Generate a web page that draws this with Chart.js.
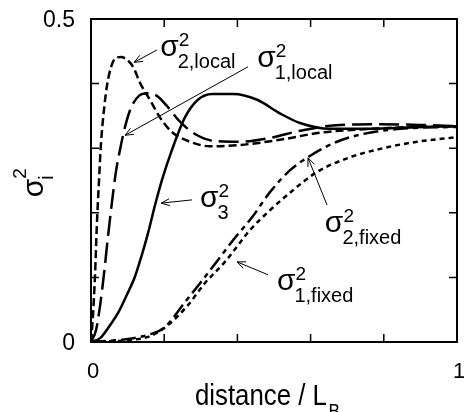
<!DOCTYPE html>
<html>
<head>
<meta charset="utf-8">
<script src="https://cdn.jsdelivr.net/npm/chart.js@4.4.0/dist/chart.umd.min.js"></script>
<style>
    html, body { margin: 0; padding: 0; background: #fff; overflow: hidden; }
    #wrap { width: 464px; height: 412px; }
</style>
</head>
<body>
<div id="wrap"><canvas id="sigmaChart"></canvas></div>
<script>
// --- Data (x = distance / L_B, y = sigma_i^2) ---
const local2X = [0, 0.0055, 0.011, 0.016, 0.022, 0.027, 0.036, 0.044, 0.055, 0.068, 0.082, 0.098, 0.115, 0.134, 0.161, 0.189, 0.221, 0.270, 0.325, 0.407, 0.516, 0.626, 0.762, 0.899, 1.0];
const local2Y = [0, 0.042, 0.104, 0.181, 0.251, 0.305, 0.362, 0.398, 0.426, 0.440, 0.441, 0.437, 0.426, 0.401, 0.375, 0.347, 0.325, 0.310, 0.303, 0.305, 0.313, 0.324, 0.330, 0.333, 0.334];

const local1X = [0, 0.014, 0.025, 0.036, 0.046, 0.057, 0.068, 0.079, 0.093, 0.109, 0.131, 0.156, 0.180, 0.208, 0.243, 0.284, 0.339, 0.407, 0.489, 0.571, 0.680, 0.790, 0.899, 1.0];
const local1Y = [0, 0.019, 0.057, 0.108, 0.161, 0.215, 0.263, 0.297, 0.333, 0.362, 0.381, 0.385, 0.381, 0.365, 0.341, 0.322, 0.311, 0.310, 0.316, 0.327, 0.336, 0.337, 0.336, 0.334];

const sigma3X = [0, 0.025, 0.052, 0.074, 0.098, 0.120, 0.139, 0.156, 0.175, 0.194, 0.221, 0.257, 0.292, 0.331, 0.388, 0.454, 0.516, 0.571, 0.653, 0.762, 0.899, 1.0];
const sigma3Y = [0, 0.006, 0.026, 0.045, 0.073, 0.101, 0.135, 0.169, 0.212, 0.251, 0.297, 0.348, 0.375, 0.384, 0.384, 0.375, 0.354, 0.339, 0.330, 0.330, 0.333, 0.334];

const fixed2X = [0, 0.052, 0.107, 0.161, 0.202, 0.257, 0.298, 0.347, 0.393, 0.440, 0.489, 0.544, 0.598, 0.672, 0.743, 0.844, 1.0];
const fixed2Y = [0, 0.002, 0.005, 0.012, 0.023, 0.062, 0.091, 0.127, 0.161, 0.193, 0.232, 0.266, 0.288, 0.310, 0.322, 0.330, 0.333];

const fixed1X = [0, 0.052, 0.107, 0.161, 0.210, 0.265, 0.311, 0.366, 0.434, 0.489, 0.552, 0.617, 0.708, 0.798, 0.891, 1.0];
const fixed1Y = [0, 0.001, 0.003, 0.009, 0.026, 0.057, 0.091, 0.124, 0.173, 0.204, 0.235, 0.263, 0.286, 0.300, 0.310, 0.317];

const xTickValues = [0, 0.2, 0.4, 0.6, 0.8, 1];
const yTickValues = [0, 0.1, 0.2, 0.3, 0.4, 0.5];
const xTickLabels = ['0', '', '', '', '', '1'];
const yTickLabels = ['0', '', '', '', '', '0.5'];

const FONT = '"Liberation Sans", Arial, Helvetica, sans-serif';

const toPoints = (xs, ys) => xs.map((x, i) => ({ x: x, y: ys[i] }));

function lineSet(label, xs, ys, dash) {
    return {
        label: label,
        data: toPoints(xs, ys),
        borderColor: '#000',
        borderWidth: 2.5,
        borderDash: dash,
        pointRadius: 0,
        fill: false,
        cubicInterpolationMode: 'monotone'
    };
}

// Labels and arrows, placed in data coordinates
const notes = [
    { sub: '2,local', at: [0.189, 0.442], from: [0.180, 0.452], to: [0.118, 0.433] },
    { sub: '1,local', at: [0.454, 0.426], from: [0.429, 0.426], to: [0.093, 0.320] },
    { sub: '3',       at: [0.298, 0.209], from: [0.276, 0.220], to: [0.192, 0.215] },
    { sub: '2,fixed', at: [0.639, 0.170], from: [0.645, 0.212], to: [0.593, 0.285] },
    { sub: '1,fixed', at: [0.508, 0.080], from: [0.484, 0.104], to: [0.399, 0.124] }
];

function drawSigma(ctx, x, y, sub, supUp, subDown) {
    ctx.font = '30px ' + FONT;
    ctx.fillText('σ', x, y);
    const w = ctx.measureText('σ').width;
    ctx.font = '19px ' + FONT;
    ctx.fillText('2', x + w, y - supUp);
    ctx.font = '20px ' + FONT;
    ctx.fillText(sub, x + w - 1, y + subDown);
}

function drawArrow(ctx, x1, y1, x2, y2) {
    const ang = Math.atan2(y2 - y1, x2 - x1);
    const len = 9, spread = 0.4;
    ctx.beginPath();
    ctx.moveTo(x1, y1);
    ctx.lineTo(x2, y2);
    ctx.moveTo(x2 - len * Math.cos(ang - spread), y2 - len * Math.sin(ang - spread));
    ctx.lineTo(x2, y2);
    ctx.lineTo(x2 - len * Math.cos(ang + spread), y2 - len * Math.sin(ang + spread));
    ctx.stroke();
}

// Frame, inward ticks, tick labels, annotations and axis titles
const decorPlugin = {
    id: 'decor',
    afterDatasetsDraw(chart) {
        const ctx = chart.ctx;
        const xs = chart.scales.x, ys = chart.scales.y;
        const a = chart.chartArea;
        ctx.save();
        ctx.strokeStyle = '#000';
        ctx.fillStyle = '#000';

        ctx.lineWidth = 2;
        ctx.strokeRect(a.left, a.top, a.right - a.left, a.bottom - a.top);

        ctx.lineWidth = 1.5;
        const tl = 8;
        ctx.beginPath();
        xTickValues.slice(1, -1).forEach(v => {
            const px = xs.getPixelForValue(v);
            ctx.moveTo(px, a.bottom); ctx.lineTo(px, a.bottom - tl);
            ctx.moveTo(px, a.top); ctx.lineTo(px, a.top + tl);
        });
        yTickValues.slice(1, -1).forEach(v => {
            const py = ys.getPixelForValue(v);
            ctx.moveTo(a.left, py); ctx.lineTo(a.left + tl, py);
            ctx.moveTo(a.right, py); ctx.lineTo(a.right - tl, py);
        });
        ctx.stroke();

        // tick labels
        ctx.textBaseline = 'alphabetic';
        ctx.font = '22px ' + FONT;
        ctx.textAlign = 'center';
        xTickValues.forEach((v, i) => {
            if (xTickLabels[i]) ctx.fillText(xTickLabels[i], xs.getPixelForValue(v) + 2, a.bottom + 36);
        });
        ctx.font = '23px ' + FONT;
        ctx.textAlign = 'right';
        yTickValues.forEach((v, i) => {
            if (yTickLabels[i]) ctx.fillText(yTickLabels[i], a.left - 16, ys.getPixelForValue(v) + 8);
        });

        ctx.textAlign = 'left';
        ctx.lineWidth = 1;
        notes.forEach(n => {
            drawArrow(ctx,
                xs.getPixelForValue(n.from[0]), ys.getPixelForValue(n.from[1]),
                xs.getPixelForValue(n.to[0]), ys.getPixelForValue(n.to[1]));
            drawSigma(ctx, xs.getPixelForValue(n.at[0]), ys.getPixelForValue(n.at[1]), n.sub, 10, 12);
        });

        // y title: sigma_i^2, rotated
        ctx.save();
        ctx.translate(43, ys.getPixelForValue(0.224));
        ctx.rotate(-Math.PI / 2);
        drawSigma(ctx, 0, 0, 'i', 17, 10);
        ctx.restore();

        // x title: distance / L_B (glyphs a little narrower than the default face)
        const tx = xs.getPixelForValue(0.284);
        ctx.save();
        ctx.translate(tx, 405);
        ctx.scale(0.86, 1);
        ctx.font = '30px ' + FONT;
        ctx.fillText('distance / L', 0, 0);
        const tw = ctx.measureText('distance / L').width;
        ctx.font = '20px ' + FONT;
        ctx.fillText('B', tw + 2, 13);
        ctx.restore();
        ctx.restore();
    }
};

new Chart(document.getElementById('sigmaChart'), {
    type: 'line',
    data: {
        datasets: [
            lineSet('σ2,local', local2X, local2Y, [8, 4]),
            lineSet('σ1,local', local1X, local1Y, [20, 7]),
            lineSet('σ3', sigma3X, sigma3Y, []),
            lineSet('σ2,fixed', fixed2X, fixed2Y, [15, 5, 5, 5]),
            lineSet('σ1,fixed', fixed1X, fixed1Y, [5, 4])
        ]
    },
    options: {
        responsive: true,
        maintainAspectRatio: false,
        animation: false,
        layout: { padding: { top: 19, right: 7, left: 0, bottom: 0 } },
        plugins: {
            legend: { display: false },
            tooltip: { enabled: false }
        },
        scales: {
            x: {
                type: 'linear',
                min: 0, max: 1,
                grid: { display: false, drawTicks: false },
                border: { display: false },
                ticks: { display: false },
                afterFit: s => { s.height = 70; }
            },
            y: {
                type: 'linear',
                min: 0, max: 0.5,
                grid: { display: false, drawTicks: false },
                border: { display: false },
                ticks: { display: false },
                afterFit: s => { s.width = 91; }
            }
        }
    },
    plugins: [decorPlugin]
});
</script>
</body>
</html>
